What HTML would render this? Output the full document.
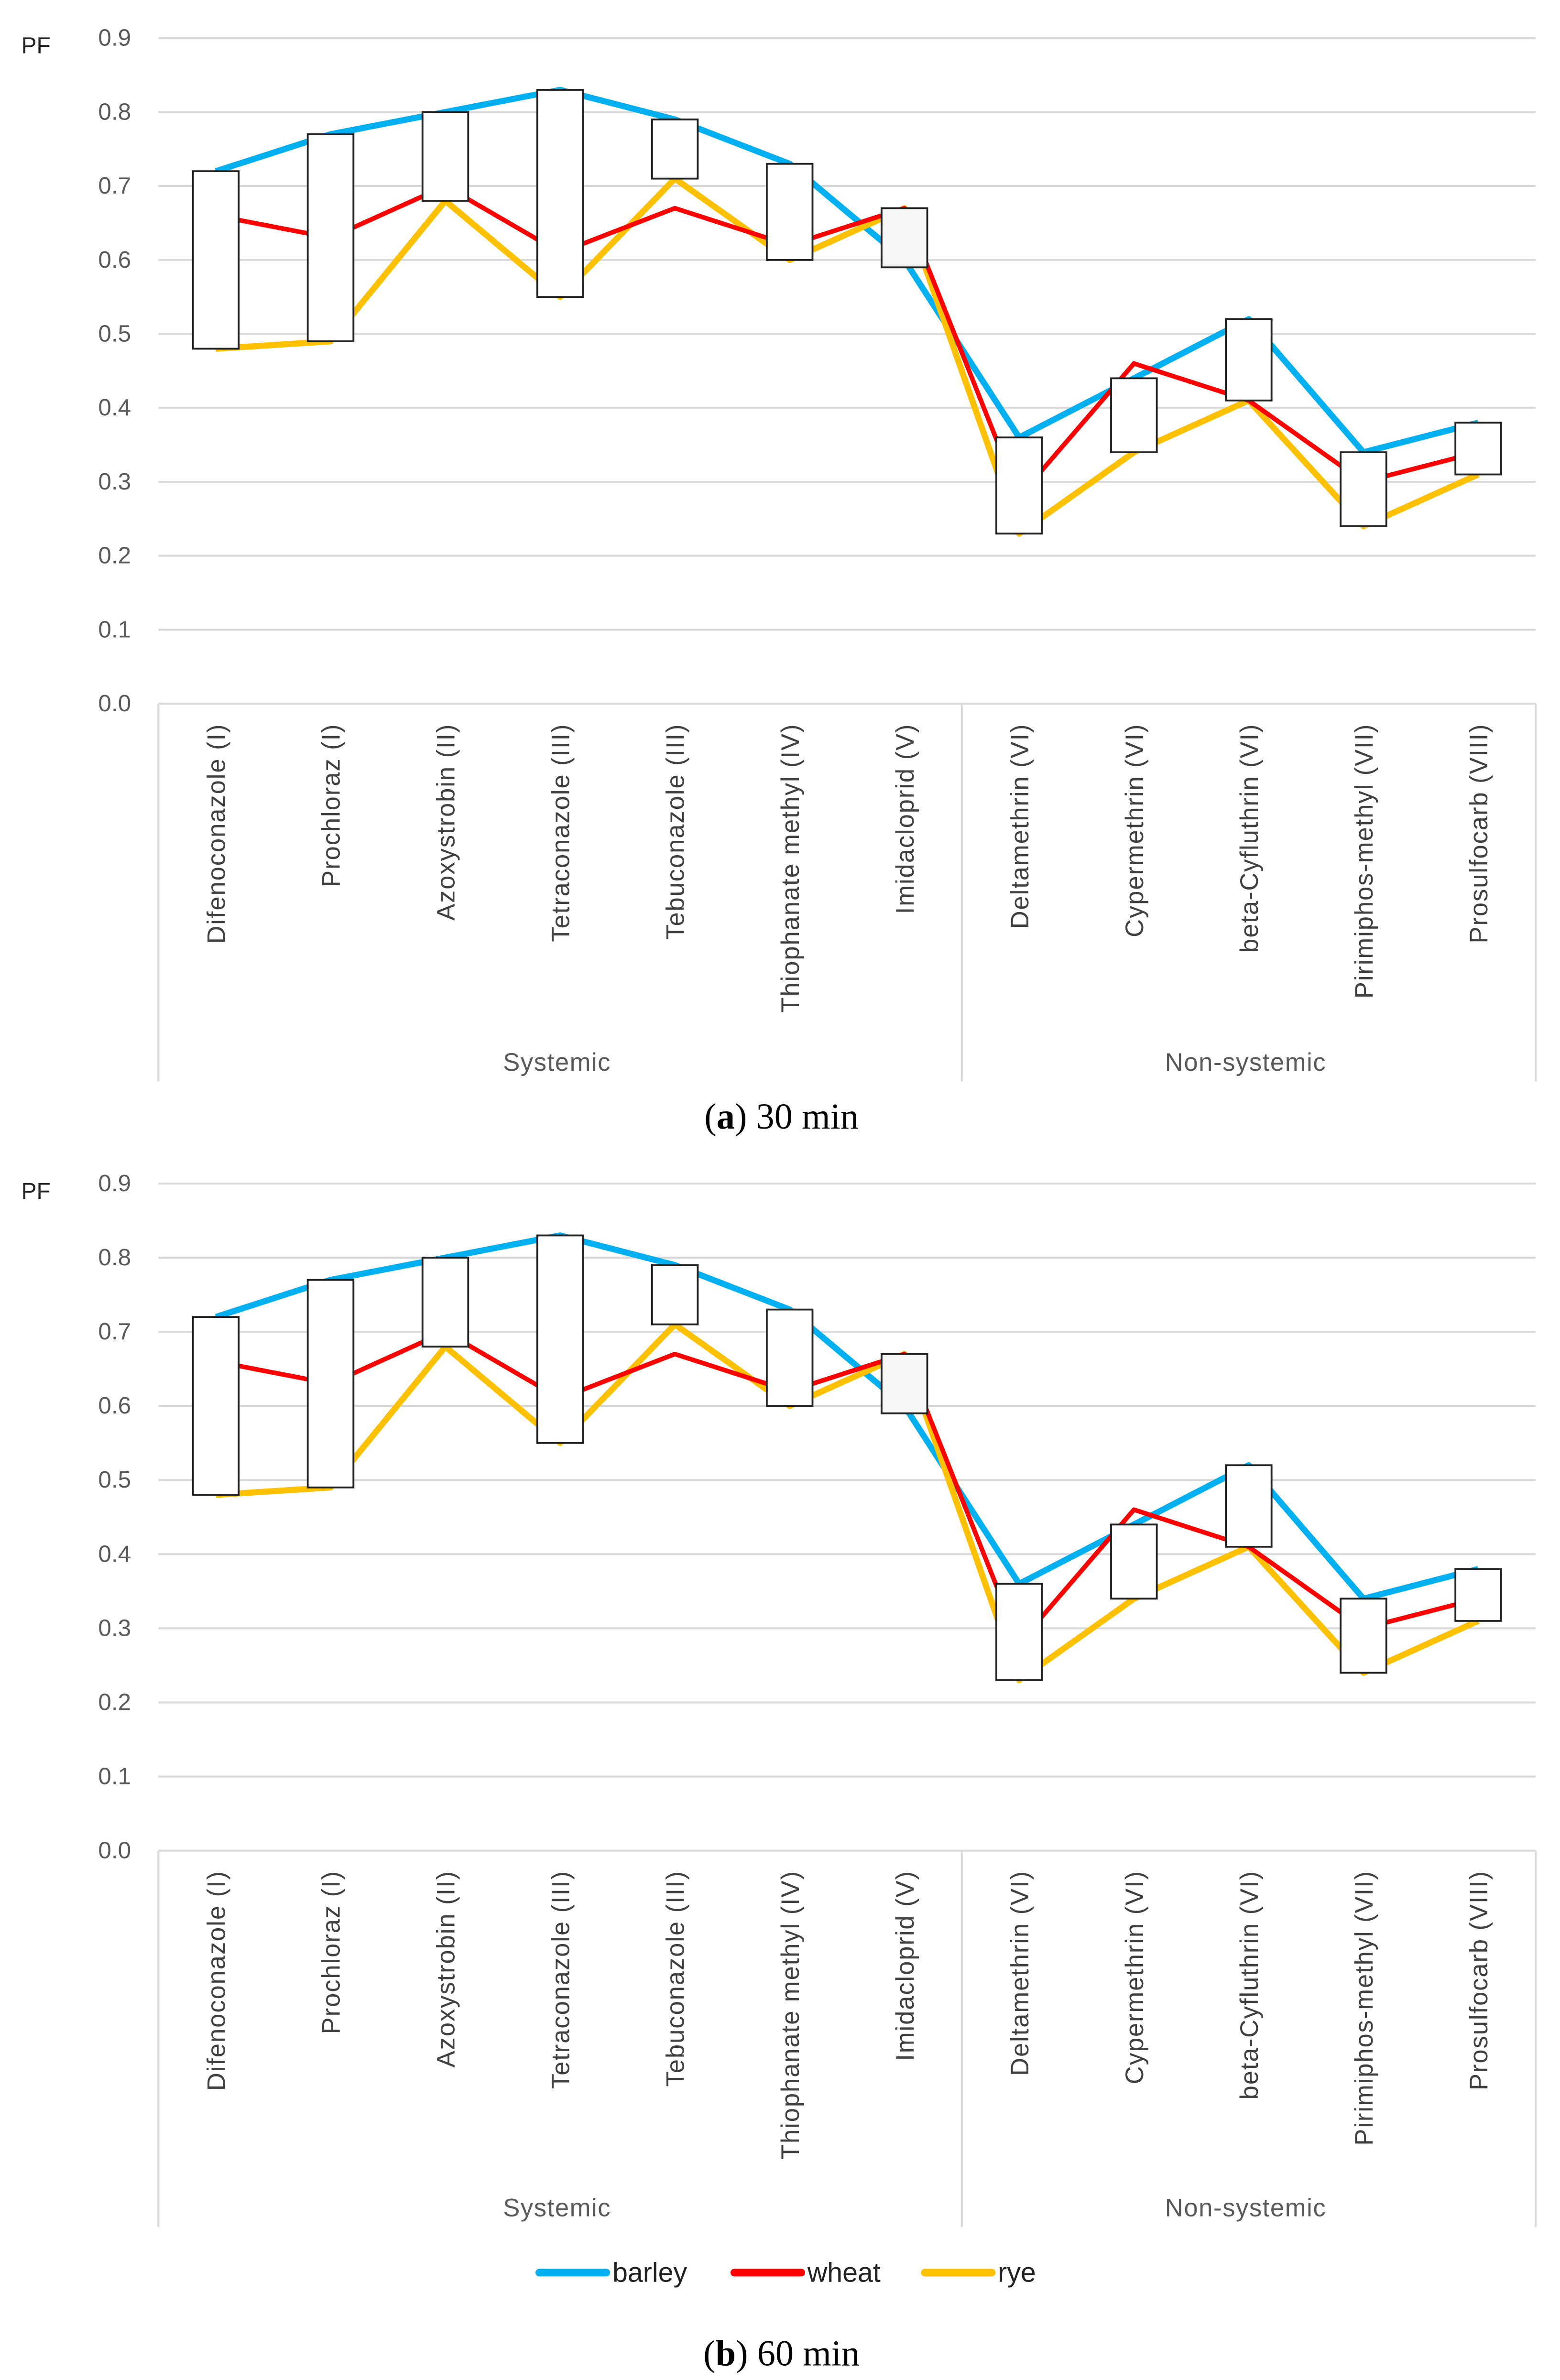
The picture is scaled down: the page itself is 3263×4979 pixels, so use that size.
<!DOCTYPE html>
<html><head><meta charset="utf-8"><style>
html,body{margin:0;padding:0;background:#fff;}
svg{display:block;}
</style></head><body>
<svg id="fig" width="3263" height="4979" viewBox="0 0 1024 1562.5" preserveAspectRatio="none" xmlns="http://www.w3.org/2000/svg" font-family="'Liberation Sans', sans-serif">
<rect width="1024" height="1562.5" fill="#fff"/>
</svg>
<script>
const categories = ["Difenoconazole (I)","Prochloraz (I)","Azoxystrobin (II)","Tetraconazole (III)","Tebuconazole (III)","Thiophanate methyl (IV)","Imidacloprid (V)","Deltamethrin (VI)","Cypermethrin (VI)","beta-Cyfluthrin (VI)","Pirimiphos-methyl (VII)","Prosulfocarb (VIII)"];
const barley = [0.72,0.77,0.80,0.83,0.79,0.73,0.60,0.36,0.44,0.52,0.34,0.38];
const wheat  = [0.66,0.63,0.70,0.61,0.67,0.62,0.67,0.28,0.46,0.41,0.30,0.34];
const rye    = [0.48,0.49,0.68,0.55,0.71,0.60,0.67,0.23,0.34,0.41,0.24,0.31];
const boxHigh = [0.72,0.77,0.80,0.83,0.79,0.73,0.67,0.36,0.44,0.52,0.34,0.38];
const boxLow  = [0.48,0.49,0.68,0.55,0.71,0.60,0.59,0.23,0.34,0.41,0.24,0.31];
const yTicks = [0.0,0.1,0.2,0.3,0.4,0.5,0.6,0.7,0.8,0.9];
const groups = ["Systemic","Non-systemic"];
const groupSizes = [7,5];

const NS="http://www.w3.org/2000/svg";
const svg=document.getElementById('fig');
function mk(tag,attrs,parent){const e=document.createElementNS(NS,tag);for(const k in attrs)e.setAttribute(k,attrs[k]);(parent||svg).appendChild(e);return e;}

function panel(top0, top9, bottom, capLetter, capText, capY, pname){
  const g=mk('g',{});
  
  
  const L=104,R=1008,n=categories.length,cw=(R-L)/n;
  const y=v=>top0-(v/0.9)*(top0-top9);
  const x=i=>L+cw*(i+0.5);
  const pf=mk('text',{x:14,y:top9+10,'font-size':15,fill:'#222'},g);pf.textContent='PF';
  
  
  yTicks.forEach(t=>{
    const ln=mk('line',{x1:L,x2:R,y1:y(t),y2:y(t),stroke:'#d9d9d9','stroke-width':1.3},g);
    
    
    const tx=mk('text',{x:86,y:y(t)+5,'font-size':15.5,fill:'#595959','text-anchor':'end'},g);
    tx.textContent=t.toFixed(1);
    
    
  });
  [L,L+cw*groupSizes[0],R].forEach(xx=>{
    const v=mk('line',{x1:xx,x2:xx,y1:top0,y2:bottom,stroke:'#d9d9d9','stroke-width':1.3},g);
    
    
  });
  categories.forEach((c,i)=>{
    const t=mk('text',{transform:`translate(${x(i)+6},${top0+13}) rotate(-90)`,'font-size':16.5,'letter-spacing':0.6,fill:'#404040','text-anchor':'end'},g);
    t.textContent=c;
    
    
  });
  let start=0;
  groups.forEach((gr,k)=>{
    const cx=L+cw*(start+groupSizes[k]/2);
    const t=mk('text',{x:cx-2,y:bottom-7,'font-size':16.5,'letter-spacing':0.5,fill:'#595959','text-anchor':'middle'},g);
    t.textContent=gr;
    
    
    start+=groupSizes[k];
  });
  const series=[[barley,'#00b0f0',4,'barley-line'],[rye,'#ffc000',4,'rye-line'],[wheat,'#ff0000',3,'wheat-line']];
  series.forEach(([d,col,w,nm])=>{
    const p=mk('polyline',{points:d.map((v,i)=>x(i)+','+y(v)).join(' '),fill:'none',stroke:col,'stroke-width':w,'stroke-linejoin':'round'},g);
    
    
  });
  boxHigh.forEach((h,i)=>{
    const r=mk('rect',{x:x(i)-15,y:y(h),width:30,height:y(boxLow[i])-y(h),fill:i==6?'#f7f7f7':'#fff',stroke:'#222','stroke-width':1.2},g);
    
    
  });
  const cap=mk('text',{x:513,y:capY,'font-size':24,fill:'#000','text-anchor':'middle','font-family':"'Liberation Serif', serif"},g);
  cap.innerHTML=`(<tspan font-weight="bold">${capLetter}</tspan>) ${capText}`;
  
  
}
panel(462,25,710,'a','30 min',741,'chart-30-min');
panel(1215,777,1462,'b','60 min',1553,'chart-60-min');

const legendItems=[['barley','#00b0f0',352],['wheat','#ff0000',480],['rye','#ffc000',605]];
legendItems.forEach(([nm,col,lx])=>{
  const g=mk('g',{});
  
  
  mk('line',{x1:lx+2,x2:lx+46,y1:1492,y2:1492,stroke:col,'stroke-width':5,'stroke-linecap':'round'},g);
  const t=mk('text',{x:lx+50,y:1498,'font-size':18,fill:'#222'},g);
  t.textContent=nm;
});
</script>
</body></html>
